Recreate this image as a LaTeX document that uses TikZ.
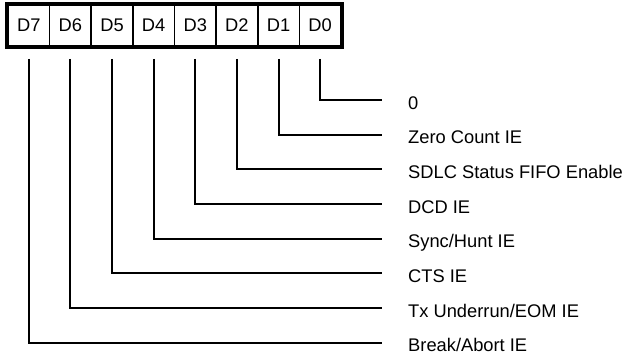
\documentclass[tikz,border=0pt]{standalone}
\usepackage{fontspec}
\setmainfont{Liberation Sans}
\usetikzlibrary{calc}
\begin{document}
\begin{tikzpicture}[x=1pt,y=-1pt,
 cell/.style={draw, line width=1.7pt, minimum width=41.625pt, minimum height=41pt, inner sep=0pt, font=\fontsize{18.3}{20}\selectfont},
 lbl/.style={anchor=base west, inner sep=0pt, font=\fontsize{18.3}{20}\selectfont},
 wire/.style={line width=2pt}]
\useasboundingbox (0,0) rectangle (637,358);
\foreach \i in {0,...,7} {
  \pgfmathsetmacro\xx{8+41.625*(7-\i)+20.8125}
  \node[cell] (d\i) at (\xx,25.5) {D\i};
}
\draw[line width=4pt] (d7.north west) rectangle (d0.south east);
\node[lbl] (l0) at (408,109.1) {0};
\node[lbl] (l1) at (408,143.8) {Zero Count IE};
\node[lbl] (l2) at (408,178.4) {SDLC Status FIFO Enable};
\node[lbl] (l3) at (408,213.1) {DCD IE};
\node[lbl] (l4) at (408,247.8) {Sync/Hunt IE};
\node[lbl] (l5) at (408,282.4) {CTS IE};
\node[lbl] (l6) at (408,317.1) {Tx Underrun/EOM IE};
\node[lbl] (l7) at (408,351.8) {Break/Abort IE};
\foreach \i in {0,...,7} {
  \draw[wire] ($(d\i.south)+(0,12)$) |- ($(l\i.base west)+(-26,-9.1)$);
}
\end{tikzpicture}
\end{document}
